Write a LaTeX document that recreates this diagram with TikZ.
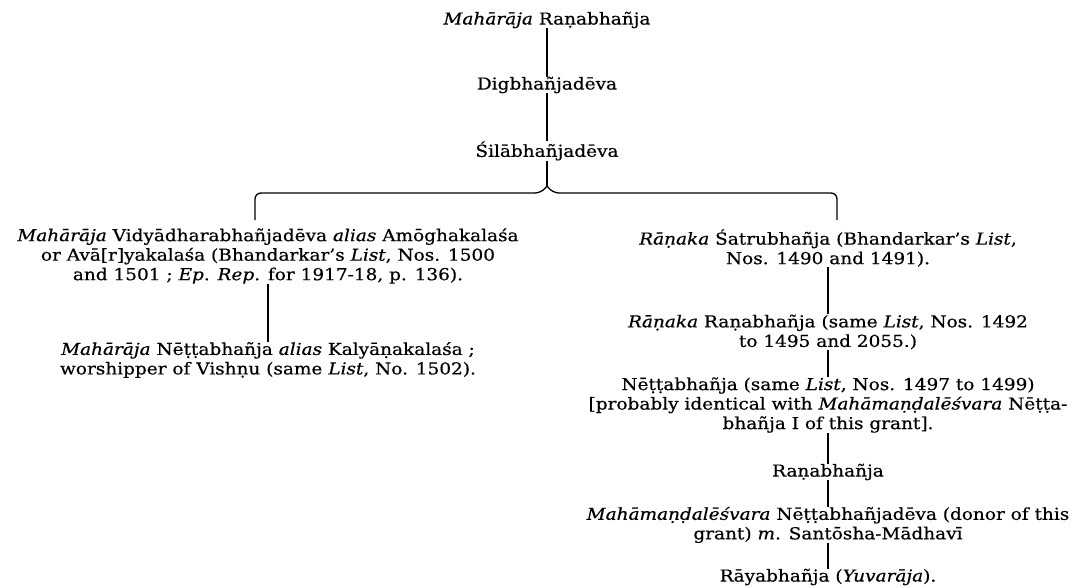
\documentclass[tikz,border=0pt]{standalone}
\usepackage{fontspec}
\setmainfont{DejaVu Serif}[FakeStretch=1.12, FakeBold=0.5]
\newcommand{\stammfont}{\fontsize{16.5}{19.5}\selectfont}
\tikzset{
	person/.style={inner sep=0pt, align=center, font=\stammfont},
	linie/.style={line width=1.3pt}
}
\begin{document}
\begin{tikzpicture}[x=1pt, y=-1pt]
		\useasboundingbox (0, 0) rectangle (1081, 588);
		% Oberer Stamm
		\begin{scope}
			\node [person] (rana) at (547, 20) {\textit{Mahārāja} Raṇabhañja};
			\node [person] (digb) at (547, 85) {Digbhañjadēva};
			\node [person] (sila) at (547, 151) {Śilābhañjadēva};
		\end{scope}
		% Linker Zweig
		\begin{scope}
			\node [person] (vidya) at (268, 256) {\textit{Mahārāja} Vidyādharabhañjadēva \textit{alias} Amōghakalaśa\\
				or Avā[r]yakalaśa (Bhandarkar's \textit{List}, Nos. 1500\\
				and 1501 ; \textit{Ep}. \textit{Rep}. for 1917-18, p. 136).};
			\node [person] (netta1) at (268, 360) {\textit{Mahārāja} Nēṭṭabhañja \textit{alias} Kalyāṇakalaśa ;\\
				worshipper of Vishṇu (same \textit{List}, No. 1502).};
		\end{scope}
		% Rechter Zweig
		\begin{scope}
			\node [person] (satru) at (828, 248) {\textit{Rāṇaka} Śatrubhañja (Bhandarkar's \textit{List},\\
				Nos. 1490 and 1491).};
			\node [person] (rana2) at (828, 332) {\textit{Rāṇaka} Raṇabhañja (same \textit{List}, Nos. 1492\\
				to 1495 and 2055.)};
			\node [person] (netta2) at (828, 405) {Nēṭṭabhañja (same \textit{List}, Nos. 1497 to 1499)\\
				{[}probably identical with \textit{Mahāmaṇḍalēśvara} Nēṭṭa-\\
				bhañja I of this grant].};
			\node [person] (rana3) at (828, 472) {Raṇabhañja};
			\node [person] (netta3) at (828, 525) {\textit{Mahāmaṇḍalēśvara} Nēṭṭabhañjadēva (donor of this\\
				grant) \textit{m}. Santōsha-Mādhavī};
			\node [person] (raya) at (828, 577) {Rāyabhañja (\textit{Yuvarāja}).};
		\end{scope}
		% Klammer
		\coordinate (spitze) at (547, 186);
		\coordinate (links) at (255, 220);
		\coordinate (rechts) at (837, 220);
		\draw [linie, rounded corners=6pt] (links) -- (255, 193) -- (541, 193) -- (spitze);
		\draw [linie, rounded corners=6pt] (rechts) -- (837, 193) -- (553, 193) -- (spitze);
		% Linien
		\draw [linie] (rana) -- (digb);
		\draw [linie] (digb) -- (sila);
		\draw [linie] (sila) -- (spitze);
		\draw [linie] (vidya) -- (netta1);
		\draw [linie] (satru) -- (rana2);
		\draw [linie] (rana2) -- (netta2);
		\draw [linie] (netta2) -- (rana3);
		\draw [linie] (rana3) -- (netta3);
		\draw [linie] (netta3) -- (raya);
	\end{tikzpicture}
\end{document}
